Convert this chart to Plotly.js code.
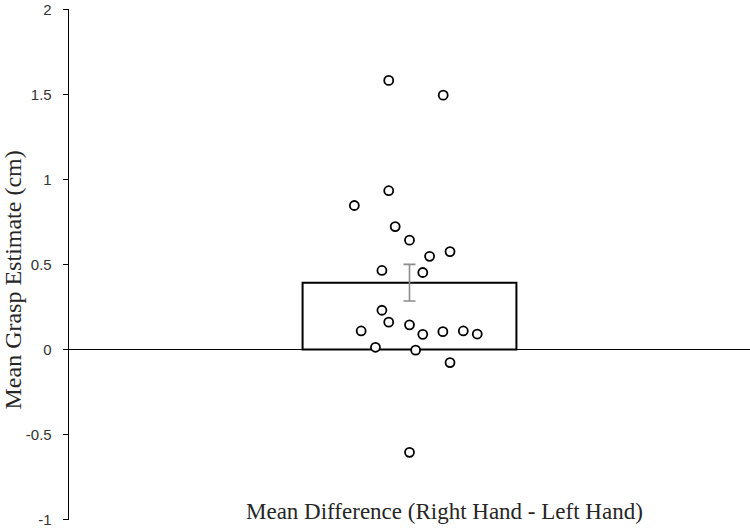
<!DOCTYPE html>
<html>
<head>
<meta charset="utf-8">
<script src="https://cdn.plot.ly/plotly-3.0.1.min.js"></script>
<style>
  html, body { margin: 0; padding: 0; background: #fff; }
  #chart { width: 750px; height: 529px; }
</style>
</head>
<body>
<div id="chart"></div>
<script>
// bar: mean difference with standard error
const barMean = 0.393;
const barError = 0.108;

// individual participants (x = jitter offset around the bar centre)
const pointJitter = [-0.061, 0.099, -0.061, -0.162, -0.042, 0, 0.059, 0.119, -0.081, 0.039, -0.081,
                     -0.061, -0.142, 0, 0.039, 0.098, 0.158, 0.199, -0.100, 0.018, 0.119, 0];
const pointValues = [1.583, 1.496, 0.934, 0.847, 0.723, 0.643, 0.548, 0.576, 0.465, 0.453, 0.231,
                     0.161, 0.109, 0.145, 0.089, 0.105, 0.109, 0.091, 0.013, -0.004, -0.077, -0.605];

const tickValues = [-1, -0.5, 0, 0.5, 1, 1.5, 2];
const tickLabels = ['-1', '-0.5', '0', '0.5', '1', '1.5', '2'];

const xTitle = 'Mean Difference (Right Hand - Left Hand)';
const yTitle = 'Mean Grasp Estimate (cm)';

const serif = '"Liberation Serif", "Times New Roman", serif';

const bar = {
    type: 'bar',
    x: [0],
    y: [barMean],
    width: 0.628,
    marker: { color: '#ffffff', line: { color: '#000000', width: 2 } },
    error_y: { type: 'data', array: [barError], visible: true, color: '#8c8c8c', thickness: 1.6, width: 6 },
    hoverinfo: 'skip'
};

const points = {
    type: 'scatter',
    mode: 'markers',
    x: pointJitter,
    y: pointValues,
    marker: { size: 9, color: '#ffffff', line: { color: '#000000', width: 1.8 } }
};

Plotly.newPlot('chart', [bar, points], {
    width: 750,
    height: 529,
    margin: { l: 69, r: 0, t: 9, b: 9 },
    paper_bgcolor: '#ffffff',
    plot_bgcolor: '#ffffff',
    showlegend: false,
    xaxis: {
        range: [-1, 1],
        showticklabels: false,
        showgrid: false,
        zeroline: false,
        showline: false,
        ticks: ''
    },
    yaxis: {
        range: [-1.003, 2.003],
        tickvals: tickValues,
        ticktext: tickLabels,
        ticks: 'outside',
        ticklen: 5,
        tickwidth: 1.3,
        tickcolor: '#000000',
        ticklabelstandoff: 8,
        ticklabeloverflow: 'allow',
        showline: true,
        linecolor: '#000000',
        linewidth: 1.3,
        zeroline: true,
        zerolinecolor: '#000000',
        zerolinewidth: 1.5,
        showgrid: false,
        tickfont: { family: '"Liberation Sans", Arial, sans-serif', size: 15, color: '#333333' }
    },
    annotations: [
        {
            text: xTitle, xref: 'paper', yref: 'paper', x: 0.552, y: 0.016,
            xanchor: 'center', yanchor: 'middle', showarrow: false,
            font: { family: serif, size: 23, color: '#262626' }
        },
        {
            text: yTitle, xref: 'paper', yref: 'paper', x: -0.082, y: 0.469,
            xanchor: 'center', yanchor: 'middle', textangle: -90, showarrow: false,
            font: { family: serif, size: 24, color: '#262626' }
        }
    ]
}, { displayModeBar: false, staticPlot: true });
</script>
</body>
</html>
